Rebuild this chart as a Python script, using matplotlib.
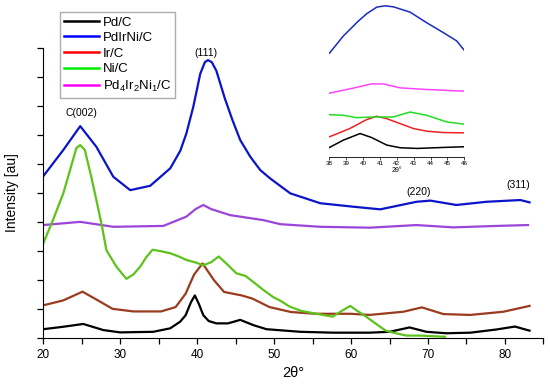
import matplotlib
matplotlib.use("Agg")
import matplotlib.pyplot as plt
from matplotlib.lines import Line2D
from matplotlib.ticker import MultipleLocator

plt.rcParams["font.family"] = ["Liberation Sans", "DejaVu Sans"]
plt.rcParams["mathtext.default"] = "regular"

# main XRD patterns (2theta, offset intensity)
pdc_x = [20.0, 22.5, 25.2, 27.8, 30.0, 34.3, 36.5, 37.8, 38.5, 39.2, 39.7, 40.2, 40.8, 41.5, 42.5,
         44.0, 45.6, 47.3, 49.0, 53.4, 57.7, 62.4, 65.0, 67.6, 69.8, 72.4, 75.5, 78.9, 81.3, 83.2]
pdc_y = [0.32, 0.40, 0.50, 0.29, 0.21, 0.23, 0.35, 0.58, 0.80, 1.25, 1.48, 1.20, 0.80, 0.60, 0.52,
         0.52, 0.64, 0.46, 0.32, 0.23, 0.20, 0.20, 0.23, 0.38, 0.23, 0.18, 0.20, 0.31, 0.41, 0.27]

irc_x = [20.0, 22.6, 25.1, 27.1, 29.0, 31.7, 35.3, 37.2, 38.5, 39.6, 40.7, 42.2, 43.5, 45.8, 47.2,
         49.4, 52.2, 55.4, 59.9, 62.4, 66.8, 69.2, 72.0, 75.5, 79.8, 83.2]
irc_y = [1.14, 1.31, 1.61, 1.31, 1.02, 0.93, 0.93, 1.08, 1.54, 2.20, 2.58, 2.00, 1.60, 1.48, 1.37,
         1.08, 0.91, 0.85, 0.85, 0.81, 0.92, 1.07, 0.84, 0.81, 0.92, 1.12]

nic_x = [20.0, 21.3, 22.6, 23.6, 24.3, 24.8, 25.4, 26.2, 26.9, 27.6, 28.2, 29.5, 30.8, 31.7, 32.6,
         33.4, 34.2, 35.3, 36.5, 37.6, 38.6, 39.7, 40.8, 41.8, 42.8, 43.9, 45.1, 46.3, 47.5, 48.6,
         49.9, 50.8, 52.0, 53.5, 55.5, 57.6, 58.8, 59.9, 60.8, 61.7, 63.0, 64.5, 65.5, 67.2, 69.0,
         70.5, 72.2]
nic_y = [3.27, 4.10, 4.99, 5.90, 6.55, 6.65, 6.48, 5.60, 4.76, 3.90, 3.04, 2.47, 2.05, 2.20, 2.47,
         2.80, 3.05, 3.00, 2.93, 2.82, 2.70, 2.62, 2.52, 2.62, 2.82, 2.55, 2.24, 2.15, 1.90, 1.67,
         1.42, 1.30, 1.10, 0.95, 0.85, 0.75, 0.95, 1.12, 0.95, 0.80, 0.55, 0.27, 0.20, 0.10, 0.10,
         0.08, 0.06]

pdirni_x = [20.0, 22.6, 24.8, 26.9, 29.1, 31.3, 33.9, 36.5, 37.8, 38.6, 39.5, 40.4, 41.0, 41.4,
            41.9, 42.5, 43.6, 44.6, 45.6, 46.9, 48.2, 49.5, 52.1, 56.0, 60.3, 63.8, 68.5, 70.3,
            73.7, 77.6, 82.0, 83.2]
pdirni_y = [5.58, 6.48, 7.30, 6.59, 5.56, 5.10, 5.25, 5.85, 6.45, 7.05, 7.97, 9.10, 9.50, 9.57,
            9.50, 9.20, 8.25, 7.50, 6.82, 6.25, 5.79, 5.50, 4.99, 4.65, 4.53, 4.44, 4.70, 4.74,
            4.59, 4.70, 4.76, 4.68]

pd4_x = [20.0, 24.8, 29.1, 35.6, 38.6, 39.8, 40.8, 41.8, 44.3, 48.6, 50.8, 56.0, 62.5, 68.5, 73.3,
         78.9, 83.0]
pd4_y = [3.90, 4.01, 3.84, 3.87, 4.19, 4.45, 4.59, 4.45, 4.24, 4.07, 3.93, 3.84, 3.81, 3.90, 3.82,
         3.87, 3.90]

# inset (38-46 deg zoom)
in_pdc_x = [38.0, 38.83, 39.82, 40.5, 41.4, 42.2, 43.2, 44.76, 46.0]
in_pdc_y = [0.93, 1.67, 2.33, 1.93, 1.17, 0.90, 0.83, 0.93, 1.00]
in_irc_x = [38.0, 39.2, 40.2, 40.8, 41.4, 42.2, 43.0, 43.77, 44.76, 46.0]
in_irc_y = [2.00, 2.83, 3.73, 4.07, 3.83, 3.33, 2.83, 2.57, 2.43, 2.40]
in_nic_x = [38.0, 38.83, 39.62, 40.6, 41.8, 42.78, 43.77, 44.96, 46.0]
in_nic_y = [4.23, 4.17, 3.93, 4.00, 4.00, 4.50, 4.17, 3.50, 3.27]
in_pd4_x = [38.0, 39.2, 40.5, 41.2, 42.2, 43.77, 46.0]
in_pd4_y = [6.40, 6.83, 7.33, 7.33, 6.93, 6.77, 6.60]
in_pdirni_x = [38.0, 38.83, 39.72, 40.21, 40.81, 41.3, 41.79, 42.78, 43.77, 44.76, 45.55, 46.0]
in_pdirni_y = [10.43, 12.17, 13.67, 14.4, 15.07, 15.2, 15.1, 14.57, 13.5, 12.5, 11.67, 10.73]

legend_labels = ["Pd/C", "PdIrNi/C", "Ir/C", "Ni/C", r"Pd$_4$Ir$_2$Ni$_1$/C"]
legend_colors = ["black", "#0000ff", "#ff0000", "#00ee00", "#ff00ff"]

fig = plt.figure(figsize=(5.5, 3.84), dpi=100)
ax = fig.add_axes([0.0787, 0.1185, 0.9093, 0.7575])

lw = 1.6
ax.plot(pdc_x, pdc_y, color="black", lw=lw)
ax.plot(irc_x, irc_y, color="#9a3b1e", lw=lw)
ax.plot(pd4_x, pd4_y, color="#9b45d8", lw=lw)
ax.plot(nic_x, nic_y, color="#5ec21c", lw=lw)
ax.plot(pdirni_x, pdirni_y, color="#0a14c8", lw=lw)

ax.set_xlim(20, 85)
ax.set_ylim(0, 10)
ax.xaxis.set_major_locator(MultipleLocator(10))
ax.xaxis.set_minor_locator(MultipleLocator(5))
ax.yaxis.set_major_locator(MultipleLocator(1))
ax.set_yticklabels([])
ax.tick_params(axis="both", which="both", direction="out", length=4, width=0.9)
ax.tick_params(axis="x", labelsize=8.5)
for s in ["top", "right"]:
    ax.spines[s].set_visible(False)
ax.set_xlabel("2θ°", fontsize=10.5)
ax.set_ylabel("Intensity [au]", fontsize=10, labelpad=10)

ax.text(25.0, 7.74, "C(002)", ha="center", va="center", fontsize=7.5)
ax.text(41.1, 9.83, "(111)", ha="center", va="center", fontsize=7.5)
ax.text(68.8, 5.05, "(220)", ha="center", va="center", fontsize=7.5)
ax.text(81.7, 5.27, "(311)", ha="center", va="center", fontsize=7.5)

handles = [Line2D([], [], color=c, lw=1.8) for c in legend_colors]
fig.legend(handles, legend_labels, loc="upper left", bbox_to_anchor=(0.098, 0.985),
           fontsize=9.5, frameon=True, fancybox=False, edgecolor="#999999",
           handlelength=2.6, handletextpad=0.3, labelspacing=0.25, borderpad=0.3)

# inset
ins = fig.add_axes([0.599, 0.592, 0.245, 0.405])
ins.plot(in_pdc_x, in_pdc_y, color="black", lw=1.1)
ins.plot(in_irc_x, in_irc_y, color="#ee2222", lw=1.1)
ins.plot(in_nic_x, in_nic_y, color="#22dd22", lw=1.1)
ins.plot(in_pd4_x, in_pd4_y, color="#ff44ff", lw=1.1)
ins.plot(in_pdirni_x, in_pdirni_y, color="#1a2bc0", lw=1.1)
ins.set_xlim(38, 46)
ins.set_ylim(0, 15.67)
ins.patch.set_alpha(0)
for s in ["top", "right", "left"]:
    ins.spines[s].set_visible(False)
ins.spines["bottom"].set_linewidth(0.6)
ins.set_yticks([])
ins.xaxis.set_major_locator(MultipleLocator(1))
ins.tick_params(axis="x", direction="out", length=2, width=0.5, labelsize=4.5, pad=1)
ins.set_xlabel("2θ°", fontsize=5, labelpad=1)

fig.savefig("out.png", dpi=100)
